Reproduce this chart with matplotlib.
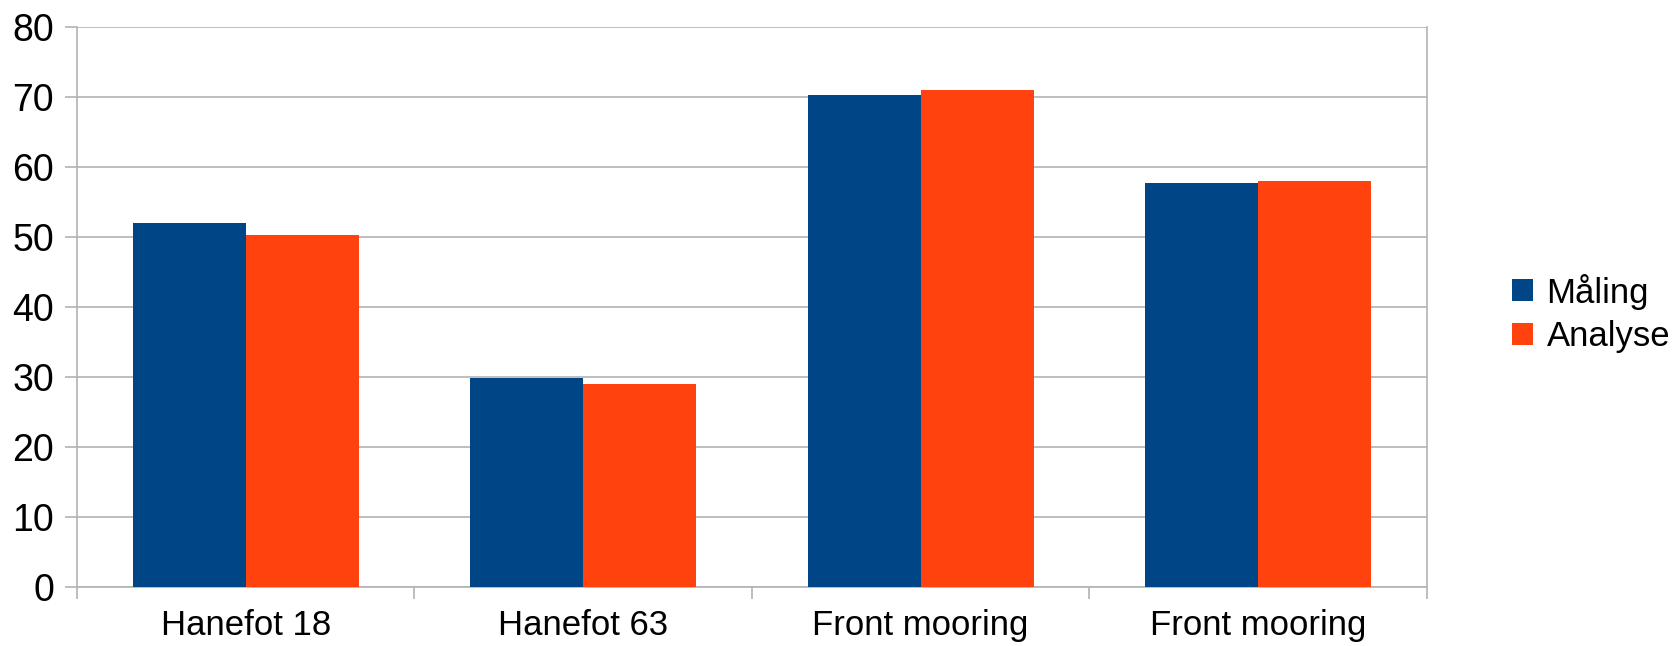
import matplotlib
matplotlib.use("Agg")
import matplotlib.pyplot as plt
import numpy as np

categories = ["Hanefot 18", "Hanefot 63", "Front mooring", "Front mooring"]
series_names = ["Måling", "Analyse"]
maaling = [52.0, 29.85, 70.3, 57.6]
analyse = [50.2, 29.0, 70.9, 57.9]
colors = ["#004586", "#ff420e"]

plt.rcParams['font.family'] = ['Liberation Sans', 'DejaVu Sans']

fig = plt.figure(figsize=(16.73, 6.46), dpi=100)
ax = fig.add_axes([0.046, 0.0918, 0.8068, 0.8669])

x = np.arange(len(categories))
w = 0.335
ax.bar(x - w / 2, maaling, width=w, color=colors[0], label=series_names[0], zorder=3)
ax.bar(x + w / 2, analyse, width=w, color=colors[1], label=series_names[1], zorder=3)

ax.set_xlim(-0.5, len(categories) - 0.5)
ax.set_ylim(0, 80)
ax.set_yticks(np.arange(0, 81, 10))
ax.yaxis.grid(True, color="#b3b3b3", linewidth=1.2, zorder=0)
ax.set_axisbelow(True)

ax.set_xticks(x)
ax.set_xticklabels(categories)
ax.set_xticks(np.arange(-0.5, len(categories)), minor=True)
ax.tick_params(axis='x', which='major', length=0, pad=16, labelsize=25)
ax.tick_params(axis='x', which='minor', length=8.6, width=1.2, color="#b3b3b3")
ax.tick_params(axis='y', length=8.6, width=1.2, color="#b3b3b3", pad=8, labelsize=27)

for s in ["left", "right", "bottom"]:
    ax.spines[s].set_color("#b3b3b3")
    ax.spines[s].set_linewidth(1.2)
ax.spines["top"].set_visible(False)

fig.legend(loc="center left", bbox_to_anchor=(0.885, 0.515), frameon=False,
           fontsize=25, handlelength=0.6, handleheight=0.6, handletextpad=0.4,
           labelspacing=0.3)

fig.savefig("out.png", dpi=100, facecolor="white")
